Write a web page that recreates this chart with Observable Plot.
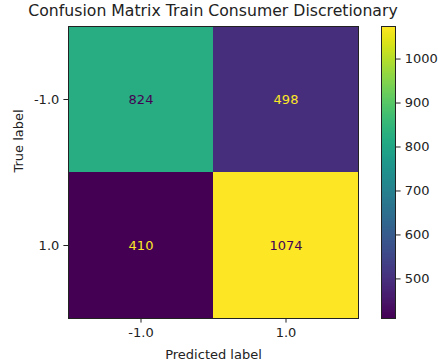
<!DOCTYPE html>
<html>
<head>
<meta charset="utf-8">
<script src="https://cdn.jsdelivr.net/npm/d3@7"></script>
<script src="https://cdn.jsdelivr.net/npm/@observablehq/plot@0.6"></script>
<style>
  html, body { margin: 0; padding: 0; background: #fff; }
  #wrap { position: relative; width: 438px; height: 362px; overflow: hidden; font-family: "DejaVu Sans", sans-serif; }
  #wrap svg { position: absolute; left: 0; top: 0; overflow: visible; }
  #title { position: absolute; left: 13px; width: 400px; top: 1px; text-align: center; font-size: 15.7px; color: #222; white-space: nowrap; }
</style>
</head>
<body>
<div id="wrap"><div id="title">Confusion Matrix Train Consumer Discretionary</div></div>
<script>
const predictedLabels = ["-1.0", "1.0"];
const trueLabels = ["-1.0", "1.0"];
const counts = [
  [824, 498],
  [410, 1074]
];
const colorTicks = [500, 600, 700, 800, 900, 1000];

const cells = [];
trueLabels.forEach((t, i) => predictedLabels.forEach((p, j) => cells.push({ truth: t, pred: p, value: counts[i][j] })));
const vmin = d3.min(cells, d => d.value);
const vmax = d3.max(cells, d => d.value);
const thresh = (vmin + vmax) / 2;
const cmin = d3.interpolateViridis(0), cmax = d3.interpolateViridis(1);
const FS = 13;

const main = Plot.plot({
  width: 438, height: 362,
  marginLeft: 68, marginRight: 80, marginTop: 26, marginBottom: 44,
  style: { fontFamily: "DejaVu Sans, sans-serif", fontSize: FS + "px", color: "#222", background: "transparent" },
  x: { domain: predictedLabels, padding: 0, label: null },
  y: { domain: trueLabels, padding: 0, label: null },
  color: { type: "linear", scheme: "viridis", domain: [vmin, vmax] },
  marks: [
    Plot.cell(cells, { x: "pred", y: "truth", fill: "value", inset: 0 }),
    Plot.text(cells, { x: "pred", y: "truth", text: d => String(d.value), fill: d => d.value < thresh ? cmax : cmin, fontSize: FS }),
    Plot.frame({ stroke: "#222", strokeWidth: 1 }),
    Plot.axisX({ tickSize: 4.6, tickPadding: 4.6, fontSize: FS, label: null }),
    Plot.axisY({ tickSize: 4.6, tickPadding: 4.6, fontSize: FS, label: null }),
    Plot.text(["Predicted label"], { frameAnchor: "bottom", dy: 40, fontSize: FS }),
    Plot.text(["True label"], { frameAnchor: "left", dx: -50, rotate: -90, fontSize: FS })
  ]
});

const bar = Plot.plot({
  width: 438, height: 362,
  marginLeft: 381, marginRight: 43, marginTop: 26, marginBottom: 44,
  style: { fontFamily: "DejaVu Sans, sans-serif", fontSize: FS + "px", color: "#222", background: "transparent" },
  x: { domain: [0, 1], axis: null },
  y: { domain: [vmin, vmax], axis: null },
  color: { type: "linear", scheme: "viridis", domain: [vmin, vmax] },
  marks: [
    Plot.raster({ x1: 0, x2: 1, y1: vmin, y2: vmax, width: 1, height: 300, fill: (x, y) => y, imageRendering: "auto" }),
    Plot.frame({ stroke: "#222", strokeWidth: 1 }),
    Plot.axisY({ anchor: "right", ticks: colorTicks, tickFormat: d => String(d), tickSize: 4.6, tickPadding: 4.6, fontSize: FS, label: null })
  ]
});

const wrap = document.getElementById("wrap");
wrap.insertBefore(main, wrap.firstChild);
wrap.insertBefore(bar, wrap.firstChild.nextSibling);
</script>
</body>
</html>
